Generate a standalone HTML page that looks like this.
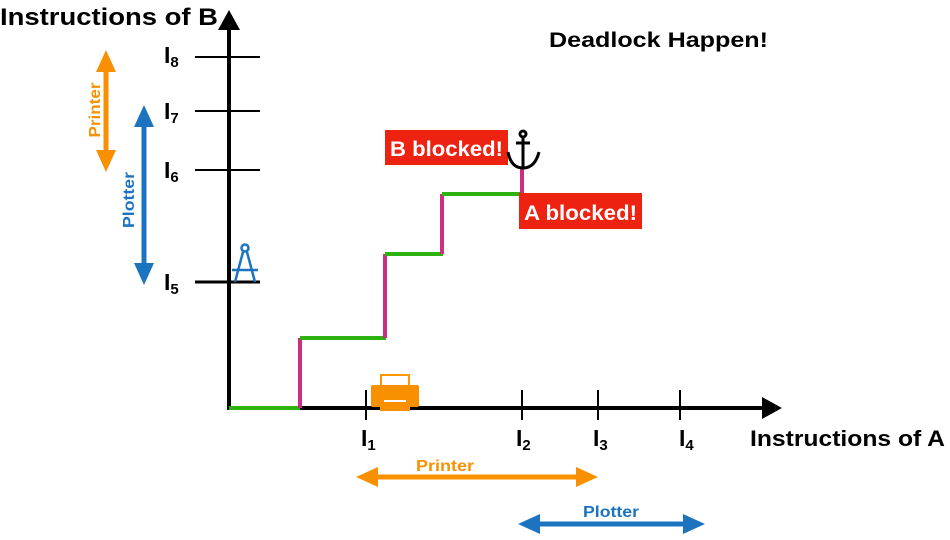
<!DOCTYPE html>
<html><head><meta charset="utf-8"><style>
html,body{margin:0;padding:0;background:#fff;}
svg{display:block;}
text{font-family:"Liberation Sans",Arial,sans-serif;font-weight:bold;}
</style></head><body>
<svg width="950" height="540" viewBox="0 0 950 540" xmlns="http://www.w3.org/2000/svg">
<line x1="229" y1="410" x2="229" y2="26" stroke="#000" stroke-width="4"/>
<polygon points="229,10 218,30 240,30" fill="#000"/>
<line x1="227" y1="408" x2="765" y2="408" stroke="#000" stroke-width="4"/>
<polygon points="782,408 762,397 762,419" fill="#000"/>
<g stroke="#000" stroke-width="2">
<line x1="195" y1="57" x2="260" y2="57"/>
<line x1="195" y1="111" x2="260" y2="111"/>
<line x1="195" y1="170" x2="260" y2="170"/>
<line x1="195" y1="282" x2="260" y2="282" stroke-width="3"/>
<line x1="366" y1="390" x2="366" y2="420"/>
<line x1="522" y1="390" x2="522" y2="420"/>
<line x1="598" y1="390" x2="598" y2="420"/>
<line x1="680" y1="390" x2="680" y2="420"/>
</g>
<g font-size="23">
<text x="164" y="63">I<tspan font-size="15" dy="4">8</tspan></text>
<text x="164" y="119">I<tspan font-size="15" dy="4">7</tspan></text>
<text x="164" y="178">I<tspan font-size="15" dy="4">6</tspan></text>
<text x="164" y="290">I<tspan font-size="15" dy="4">5</tspan></text>
<text x="361" y="446">I<tspan font-size="15" dy="4">1</tspan></text>
<text x="516" y="446">I<tspan font-size="15" dy="4">2</tspan></text>
<text x="593" y="446">I<tspan font-size="15" dy="4">3</tspan></text>
<text x="679" y="446">I<tspan font-size="15" dy="4">4</tspan></text>
</g>
<text x="0" y="25" font-size="24" textLength="218" lengthAdjust="spacingAndGlyphs">Instructions of B</text>
<text x="750" y="446" font-size="22" textLength="195" lengthAdjust="spacingAndGlyphs">Instructions of A</text>
<text x="549" y="47" font-size="21" textLength="219" lengthAdjust="spacingAndGlyphs">Deadlock Happen!</text>
<g stroke-width="4" fill="none">
<line x1="229" y1="408" x2="300" y2="408" stroke="#2db311"/>
<line x1="300" y1="408" x2="300" y2="338" stroke="#cc2e84"/>
<line x1="300" y1="338" x2="386" y2="338" stroke="#2db311"/>
<line x1="385" y1="338" x2="385" y2="254" stroke="#cc2e84"/>
<line x1="385" y1="254" x2="443" y2="254" stroke="#2db311"/>
<line x1="442" y1="254" x2="442" y2="194" stroke="#cc2e84"/>
<line x1="442" y1="194" x2="522" y2="194" stroke="#2db311"/>
<line x1="522" y1="194" x2="522" y2="168" stroke="#cc2e84"/>
</g>
<rect x="385" y="130" width="123" height="35" fill="#ee2211"/>
<text x="390" y="156" font-size="21" fill="#fff" font-weight="normal" textLength="113" lengthAdjust="spacingAndGlyphs">B blocked!</text>
<rect x="519" y="193" width="123" height="36" fill="#ee2211"/>
<text x="524" y="220" font-size="21" fill="#fff" font-weight="normal" textLength="113" lengthAdjust="spacingAndGlyphs">A blocked!</text>
<g stroke="#000" stroke-width="3" fill="none">
<circle cx="523" cy="134" r="3"/>
<line x1="523" y1="137" x2="523" y2="168"/>
<line x1="516" y1="143" x2="530" y2="143"/>
<path d="M508,152 Q511,168 523,168 Q535,168 539,152"/>
</g>
<rect x="381" y="375" width="28" height="12" fill="#fff" stroke="#f90" stroke-width="2"/>
<rect x="371" y="385" width="48" height="22" rx="2" fill="#f99000"/>
<rect x="380" y="398" width="30" height="13" fill="#f99000"/>
<line x1="384" y1="401" x2="406" y2="401" stroke="#fff" stroke-width="2"/>
<g stroke="#1c73c0" stroke-width="2.5" fill="none">
<circle cx="245" cy="248" r="3.5"/>
<line x1="243" y1="252" x2="235" y2="282"/>
<line x1="247" y1="252" x2="255" y2="282"/>
<line x1="232" y1="270" x2="258" y2="270"/>
</g>
<g fill="#f99000" stroke="#f99000">
<line x1="106" y1="66" x2="106" y2="156" stroke-width="5"/>
<polygon points="106,50 96,72 116,72" stroke="none"/>
<polygon points="106,172 96,150 116,150" stroke="none"/>
<line x1="372" y1="477" x2="580" y2="477" stroke-width="5"/>
<polygon points="356,477 378,467 378,487" stroke="none"/>
<polygon points="598,477 576,467 576,487" stroke="none"/>
</g>
<g fill="#1c73c0" stroke="#1c73c0">
<line x1="144" y1="120" x2="144" y2="270" stroke-width="5"/>
<polygon points="144,105 134,127 154,127" stroke="none"/>
<polygon points="144,285 134,263 154,263" stroke="none"/>
<line x1="534" y1="524" x2="690" y2="524" stroke-width="5"/>
<polygon points="518,524 540,514 540,534" stroke="none"/>
<polygon points="705,524 683,514 683,534" stroke="none"/>
</g>
<text x="445" y="471" font-size="16" fill="#f99000" text-anchor="middle" textLength="58" lengthAdjust="spacingAndGlyphs">Printer</text>
<text x="611" y="517" font-size="16" fill="#1c73c0" text-anchor="middle" textLength="56" lengthAdjust="spacingAndGlyphs">Plotter</text>
<text transform="translate(100,110) rotate(-90)" font-size="16" fill="#f99000" text-anchor="middle" textLength="55" lengthAdjust="spacingAndGlyphs">Printer</text>
<text transform="translate(134,200) rotate(-90)" font-size="16" fill="#1c73c0" text-anchor="middle" textLength="56" lengthAdjust="spacingAndGlyphs">Plotter</text>
</svg>
</body></html>
